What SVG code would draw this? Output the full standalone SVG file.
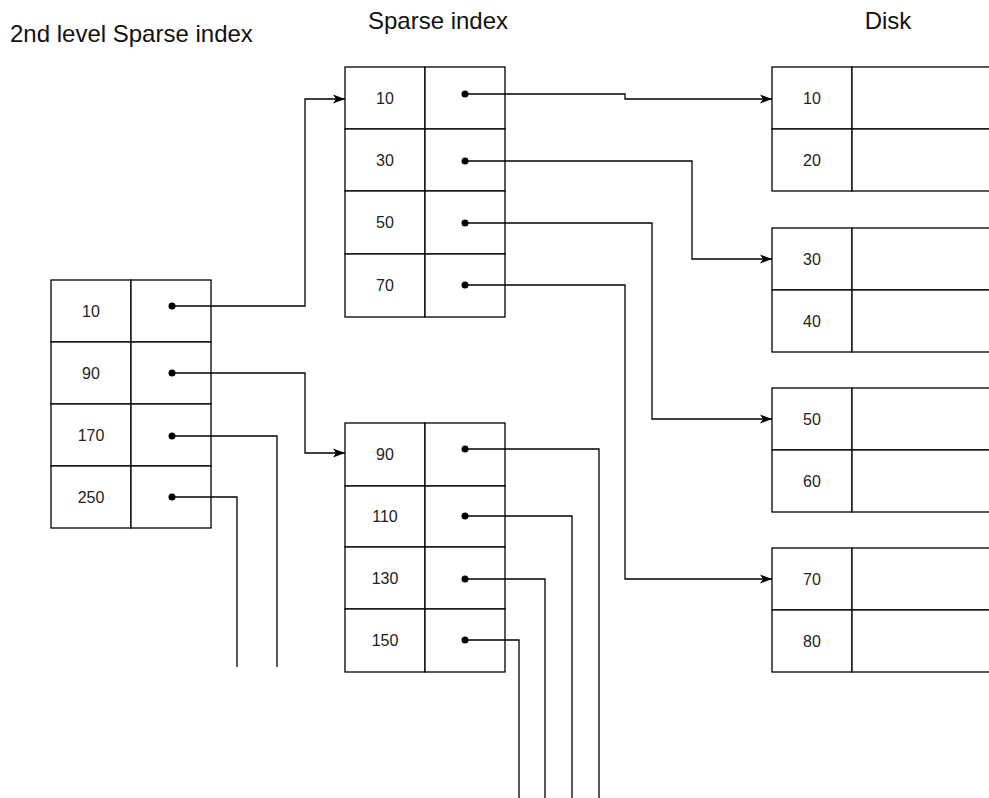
<svg xmlns="http://www.w3.org/2000/svg" width="989" height="798" viewBox="0 0 989 798">
<style>
.cell{fill:#fff;stroke:#000;stroke-width:1.3}
.t{font-family:"Liberation Sans",Arial,sans-serif;font-size:16px;fill:#222;text-anchor:middle;dominant-baseline:central}
.title{font-family:"Liberation Sans",Arial,sans-serif;font-size:24px;fill:#111}
.dot{fill:#000}
.c{fill:none;stroke:#000;stroke-width:1.3}
</style>
<defs>
<marker id="arr" markerWidth="14" markerHeight="12" viewBox="-13 -6 14 12" refX="0" refY="0" orient="auto" markerUnits="userSpaceOnUse">
<path d="M0,0 L-12,-4.5 L-9,0 L-12,4.5 Z" fill="#000"/>
</marker>
</defs>
<rect width="989" height="798" fill="#fff"/>
<g id="titles">
<text class="title" x="10" y="42">2nd level Sparse index</text>
<text class="title" x="438" y="29" text-anchor="middle">Sparse index</text>
<text class="title" x="888" y="29" text-anchor="middle">Disk</text>
</g>
<g id="index-l2">
<rect class="cell" x="51" y="280" width="80" height="62"/><rect class="cell" x="131" y="280" width="80" height="62"/>
<rect class="cell" x="51" y="342" width="80" height="62"/><rect class="cell" x="131" y="342" width="80" height="62"/>
<rect class="cell" x="51" y="404" width="80" height="62"/><rect class="cell" x="131" y="404" width="80" height="62"/>
<rect class="cell" x="51" y="466" width="80" height="62"/><rect class="cell" x="131" y="466" width="80" height="62"/>
<text class="t" x="91" y="311">10</text>
<text class="t" x="91" y="373">90</text>
<text class="t" x="91" y="435">170</text>
<text class="t" x="91" y="497">250</text>
<circle class="dot" cx="172" cy="306" r="3.5"/>
<circle class="dot" cx="172" cy="373" r="3.5"/>
<circle class="dot" cx="172" cy="436" r="3.5"/>
<circle class="dot" cx="172" cy="497" r="3.5"/>
</g>
<g id="index-s1">
<rect class="cell" x="345" y="67" width="80" height="62"/><rect class="cell" x="425" y="67" width="80" height="62"/>
<rect class="cell" x="345" y="129" width="80" height="62"/><rect class="cell" x="425" y="129" width="80" height="62"/>
<rect class="cell" x="345" y="191" width="80" height="63"/><rect class="cell" x="425" y="191" width="80" height="63"/>
<rect class="cell" x="345" y="254" width="80" height="63"/><rect class="cell" x="425" y="254" width="80" height="63"/>
<text class="t" x="385" y="98.5">10</text>
<text class="t" x="385" y="160.5">30</text>
<text class="t" x="385" y="222.5">50</text>
<text class="t" x="385" y="285">70</text>
<circle class="dot" cx="465" cy="94" r="3.5"/>
<circle class="dot" cx="465" cy="161" r="3.5"/>
<circle class="dot" cx="465" cy="223" r="3.5"/>
<circle class="dot" cx="465" cy="285" r="3.5"/>
</g>
<g id="index-s2">
<rect class="cell" x="345" y="423" width="80" height="63"/><rect class="cell" x="425" y="423" width="80" height="63"/>
<rect class="cell" x="345" y="486" width="80" height="61"/><rect class="cell" x="425" y="486" width="80" height="61"/>
<rect class="cell" x="345" y="547" width="80" height="62"/><rect class="cell" x="425" y="547" width="80" height="62"/>
<rect class="cell" x="345" y="609" width="80" height="63"/><rect class="cell" x="425" y="609" width="80" height="63"/>
<text class="t" x="385" y="454">90</text>
<text class="t" x="385" y="516">110</text>
<text class="t" x="385" y="578">130</text>
<text class="t" x="385" y="640">150</text>
<circle class="dot" cx="465" cy="449" r="3.5"/>
<circle class="dot" cx="465" cy="516" r="3.5"/>
<circle class="dot" cx="465" cy="579" r="3.5"/>
<circle class="dot" cx="465" cy="640" r="3.5"/>
</g>
<g id="disk1">
<rect class="cell" x="772" y="67" width="80" height="62"/><rect class="cell" x="852" y="67" width="160" height="62"/>
<rect class="cell" x="772" y="129" width="80" height="62"/><rect class="cell" x="852" y="129" width="160" height="62"/>
<text class="t" x="812" y="98.5">10</text>
<text class="t" x="812" y="160.5">20</text>
</g>
<g id="disk2">
<rect class="cell" x="772" y="228" width="80" height="62"/><rect class="cell" x="852" y="228" width="160" height="62"/>
<rect class="cell" x="772" y="290" width="80" height="62"/><rect class="cell" x="852" y="290" width="160" height="62"/>
<text class="t" x="812" y="259">30</text>
<text class="t" x="812" y="321">40</text>
</g>
<g id="disk3">
<rect class="cell" x="772" y="388" width="80" height="62"/><rect class="cell" x="852" y="388" width="160" height="62"/>
<rect class="cell" x="772" y="450" width="80" height="62"/><rect class="cell" x="852" y="450" width="160" height="62"/>
<text class="t" x="812" y="419">50</text>
<text class="t" x="812" y="481">60</text>
</g>
<g id="disk4">
<rect class="cell" x="772" y="548" width="80" height="62"/><rect class="cell" x="852" y="548" width="160" height="62"/>
<rect class="cell" x="772" y="610" width="80" height="62"/><rect class="cell" x="852" y="610" width="160" height="62"/>
<text class="t" x="812" y="579">70</text>
<text class="t" x="812" y="641">80</text>
</g>
<g id="connectors">
<path class="c" d="M172,306 H305 V99 H345" marker-end="url(#arr)"/>
<path class="c" d="M172,373 H305 V453 H345" marker-end="url(#arr)"/>
<path class="c" d="M172,436 H277 V667"/>
<path class="c" d="M172,497 H237 V667"/>
<path class="c" d="M465,94 H625 V99 H772" marker-end="url(#arr)"/>
<path class="c" d="M465,161 H692 V259 H772" marker-end="url(#arr)"/>
<path class="c" d="M465,223 H652 V419 H772" marker-end="url(#arr)"/>
<path class="c" d="M465,285 H625 V579 H772" marker-end="url(#arr)"/>
<path class="c" d="M465,449 H599 V798"/>
<path class="c" d="M465,516 H572 V798"/>
<path class="c" d="M465,579 H545 V798"/>
<path class="c" d="M465,640 H519 V798"/>
</g>
</svg>
